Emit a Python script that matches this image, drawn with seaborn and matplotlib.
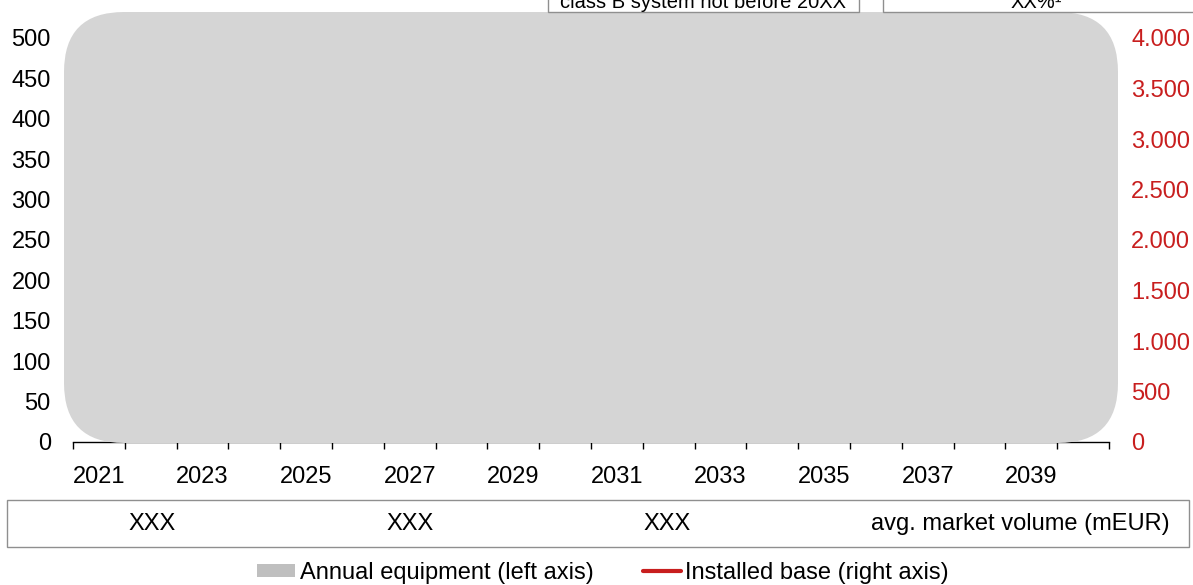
import numpy as np
import pandas as pd
import matplotlib
matplotlib.use("Agg")
import matplotlib.pyplot as plt
import seaborn as sns
from matplotlib.patches import FancyBboxPatch, Rectangle, Patch
from matplotlib.lines import Line2D
from matplotlib.ticker import FuncFormatter, FixedLocator

# ---- data -------------------------------------------------------------
years = list(range(2021, 2041))
# series values are withheld (covered by the placeholder panel)
annual_equipment = [np.nan] * len(years)
installed_base = [np.nan] * len(years)

left_ticks = [0, 50, 100, 150, 200, 250, 300, 350, 400, 450, 500]
right_ticks = [0, 500, 1000, 1500, 2000, 2500, 3000, 3500, 4000]
volume_labels = ["XXX", "XXX", "XXX"]
volume_title = "avg. market volume (mEUR)"
top_notes = ["class B system not before 20XX", "XX%\u00b9"]
legend_labels = ["Annual equipment (left axis)", "Installed base (right axis)"]

# ---- style -------------------------------------------------------------
sns.set_theme(style="white")
plt.rcParams["font.family"] = ["Liberation Sans", "DejaVu Sans"]
plt.rcParams["text.color"] = "black"
plt.rcParams["xtick.color"] = "black"
plt.rcParams["ytick.color"] = "black"
plt.rcParams["xtick.labelcolor"] = "black"
plt.rcParams["ytick.labelcolor"] = "black"
FS = 17
FS_NOTE = 14.5
RED = "#C81E1E"
BAR_GREY = "#BFBFBF"
PANEL_GREY = "#D5D5D5"
BOX_EDGE = "#8F8F8F"

W, H = 1193, 585
fig = plt.figure(figsize=(W / 100, H / 100), dpi=100)

ax = fig.add_axes([73 / W, 143 / H, 1036 / W, 404 / H])
df = pd.DataFrame({"year": years, "equipment": annual_equipment,
                   "installed": installed_base})
sns.barplot(data=df, x="year", y="equipment", color=BAR_GREY, ax=ax,
            linewidth=0)
ax.set_xlim(-0.5, len(years) - 0.5)
ax.set_ylim(0, 500)
ax.set_xlabel("")
ax.set_ylabel("")

# x axis: labels on every other year, ticks on category boundaries
label_pos = list(range(0, len(years), 2))
ax.xaxis.set_major_locator(FixedLocator(label_pos))
ax.set_xticklabels([str(years[i]) for i in label_pos], fontsize=FS,
                   color="black")
ax.xaxis.set_minor_locator(FixedLocator(np.arange(-0.5, len(years), 1.0)))
ax.tick_params(axis="x", which="major", length=0, pad=17)
ax.tick_params(axis="x", which="minor", length=5, width=1, color="black",
               direction="out", bottom=True)

ax.set_yticks(left_ticks)
ax.tick_params(axis="y", length=0, pad=16, labelsize=FS, labelcolor="black")
for s in ["left", "right", "top"]:
    ax.spines[s].set_visible(False)
ax.spines["bottom"].set_color("black")
ax.spines["bottom"].set_linewidth(1.0)

ax2 = ax.twinx()
sns.lineplot(data=df, x=np.arange(len(years)), y="installed", color=RED,
             linewidth=3, ax=ax2)
ax2.set_ylim(0, 4000)
ax2.set_xlim(-0.5, len(years) - 0.5)
ax2.set_yticks(right_ticks)
ax2.yaxis.set_major_formatter(
    FuncFormatter(lambda v, p: f"{int(v):,}".replace(",", ".")))
ax2.tick_params(axis="y", length=0, pad=16, labelsize=FS, labelcolor=RED)
ax2.set_ylabel("")
for s in ax2.spines.values():
    s.set_visible(False)

# ---- overlay in pixel coordinates ---------------------------------------
ov = fig.add_axes([0, 0, 1, 1], zorder=5)
ov.set_xlim(0, W)
ov.set_ylim(H, 0)
ov.axis("off")

ov.add_patch(FancyBboxPatch((64, 12), 1054, 431,
                            boxstyle="round,pad=0,rounding_size=60",
                            fc=PANEL_GREY, ec="none"))

# note boxes along the top edge
ov.add_patch(Rectangle((548, -30), 311, 42, fc="white", ec=BOX_EDGE, lw=1))
ov.text(703, 7.5, top_notes[0], ha="center", va="baseline", fontsize=FS_NOTE)
ov.add_patch(Rectangle((883, -30), 320, 42, fc="white", ec=BOX_EDGE, lw=1))
ov.text(1036, 7.5, top_notes[1], ha="center", va="baseline", fontsize=FS_NOTE)

# market volume strip
ov.add_patch(Rectangle((7, 500), 1182, 47, fc="white", ec=BOX_EDGE, lw=1))
for xc, t in zip([152, 410, 667], volume_labels):
    ov.text(xc, 524, t, ha="center", va="center", fontsize=FS)
ov.text(1170, 524, volume_title, ha="right", va="center", fontsize=FS)

# legend
handles = [Patch(fc=BAR_GREY, ec="none"),
           Line2D([], [], color=RED, lw=3)]
fig.legend(handles, legend_labels, loc="center", ncol=2,
           bbox_to_anchor=(603 / W, 12 / H), frameon=False, fontsize=FS,
           handlelength=1.6, handleheight=0.5, handletextpad=0.2,
           columnspacing=2.1, borderpad=0, borderaxespad=0)

fig.savefig("out.png", dpi=100)
